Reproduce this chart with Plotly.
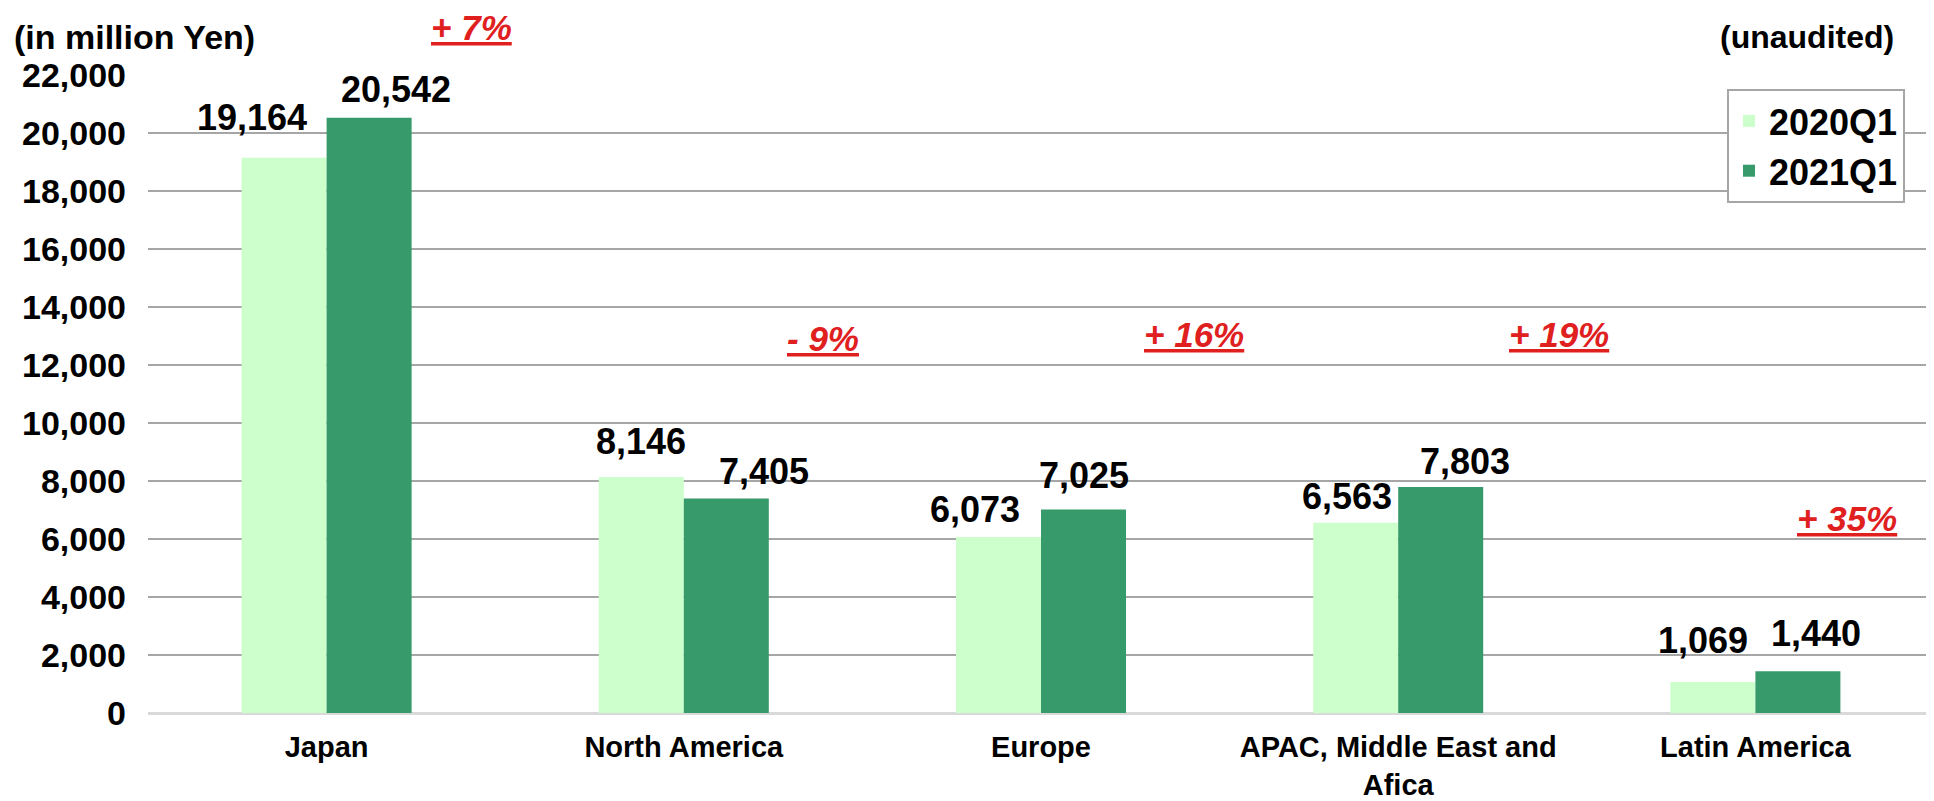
import plotly.graph_objects as go

categories = ["Japan", "North America", "Europe", "APAC, Middle East and<br>Afica", "Latin America"]
q2020 = [19164, 8146, 6073, 6563, 1069]
q2021 = [20542, 7405, 7025, 7803, 1440]
series_names = ["2020Q1", "2021Q1"]
growth_labels = ["+ 7%", "- 9%", "+ 16%", "+ 19%", "+ 35%"]
growth_y = [23640, 12900, 13035, 13035, 6724]
growth_x = [0.405, 1.39, 2.427, 3.45, 4.256]
y_max = 22000
y_ticks = list(range(0, 22001, 2000))

# label placement tweaks (pixels) for value labels
dx2020 = [-32, 0, -23, -9, -10]
dy2020 = [40, 35, 28, 26, 42]
dx2021 = [27, 38, 0, 24, 18]
dy2021 = [28, 27, 34, 25, 38]

FONT = "Liberation Sans, Arial, sans-serif"
BODY = 8  # default page body margin
W, H = 1934 - BODY, 801 - BODY
L, R, T, B = 148 - BODY, 0, 75 - BODY, 88
BARGAP = 0.524
half = (1 - BARGAP) / 4  # offset of each bar centre from category centre

def fmt(v):
    return f"{v:,}"

fig = go.Figure()
fig.add_trace(go.Bar(x=categories, y=q2020, name=series_names[0],
                     marker=dict(color="#ccffcc", line=dict(width=0))))
fig.add_trace(go.Bar(x=categories, y=q2021, name=series_names[1],
                     marker=dict(color="#379a6a", line=dict(width=0))))

for i, (v, dx, dy) in enumerate(zip(q2020, dx2020, dy2020)):
    fig.add_annotation(x=i - half, y=v, xref="x", yref="y", text=f"<b>{fmt(v)}</b>",
                       showarrow=False, xshift=dx, yshift=dy, yanchor="middle",
                       font=dict(family=FONT, size=36, color="black"))
for i, (v, dx, dy) in enumerate(zip(q2021, dx2021, dy2021)):
    fig.add_annotation(x=i + half, y=v, xref="x", yref="y", text=f"<b>{fmt(v)}</b>",
                       showarrow=False, xshift=dx, yshift=dy, yanchor="middle",
                       font=dict(family=FONT, size=36, color="black"))

for gx, gy, gl in zip(growth_x, growth_y, growth_labels):
    fig.add_annotation(x=gx, y=gy / y_max, xref="x", yref="paper", yanchor="middle",
                       text=f"<b><i><u>{gl}</u></i></b>", borderpad=0,
                       showarrow=False, font=dict(family=FONT, size=35, color="#e0201f"))

pw = W - L - R
fig.add_annotation(x=(12 - 148) / pw, y=1.0, xref="paper", yref="paper", xanchor="left", yanchor="middle",
                   text="<b>(in million Yen)</b>", showarrow=False, yshift=38,
                   font=dict(family=FONT, size=34, color="black"))
fig.add_annotation(x=(1896 - 148) / pw, y=1.0, xref="paper", yref="paper", xanchor="right", yanchor="middle",
                   text="<b>(unaudited)</b>", showarrow=False, yshift=38,
                   font=dict(family=FONT, size=32, color="black"))

fig.update_layout(
    width=W, height=H,
    margin=dict(l=L, r=R, t=T, b=B, pad=0),
    plot_bgcolor="white", paper_bgcolor="white",
    barmode="group", bargap=BARGAP, bargroupgap=0,
    font=dict(family=FONT, size=34, color="black"),
    legend=dict(x=(1727 - 148) / pw, y=(713 - 89) / 638, xanchor="left", yanchor="top",
                bordercolor="#a6a6a6", borderwidth=2, bgcolor="white",
                font=dict(family=FONT, size=36, color="black", weight="bold"),
                itemwidth=30, tracegroupgap=0),
    showlegend=True,
)
fig.update_xaxes(showgrid=False, tickfont=dict(family=FONT, size=29, weight="bold"),
                 showline=False, ticks="", ticklabelstandoff=14, automargin=False)
fig.update_yaxes(range=[0, y_max * 1.0008], tickvals=y_ticks, ticktext=[fmt(v) for v in y_ticks],
                 showgrid=True, gridcolor="#a6a6a6", gridwidth=2,
                 zeroline=True, zerolinecolor="#d9d9d9", zerolinewidth=3,
                 tickfont=dict(family=FONT, size=34, weight="bold"), ticks="",
                 ticklabelstandoff=21, automargin=False)

fig.write_html("out.html")
